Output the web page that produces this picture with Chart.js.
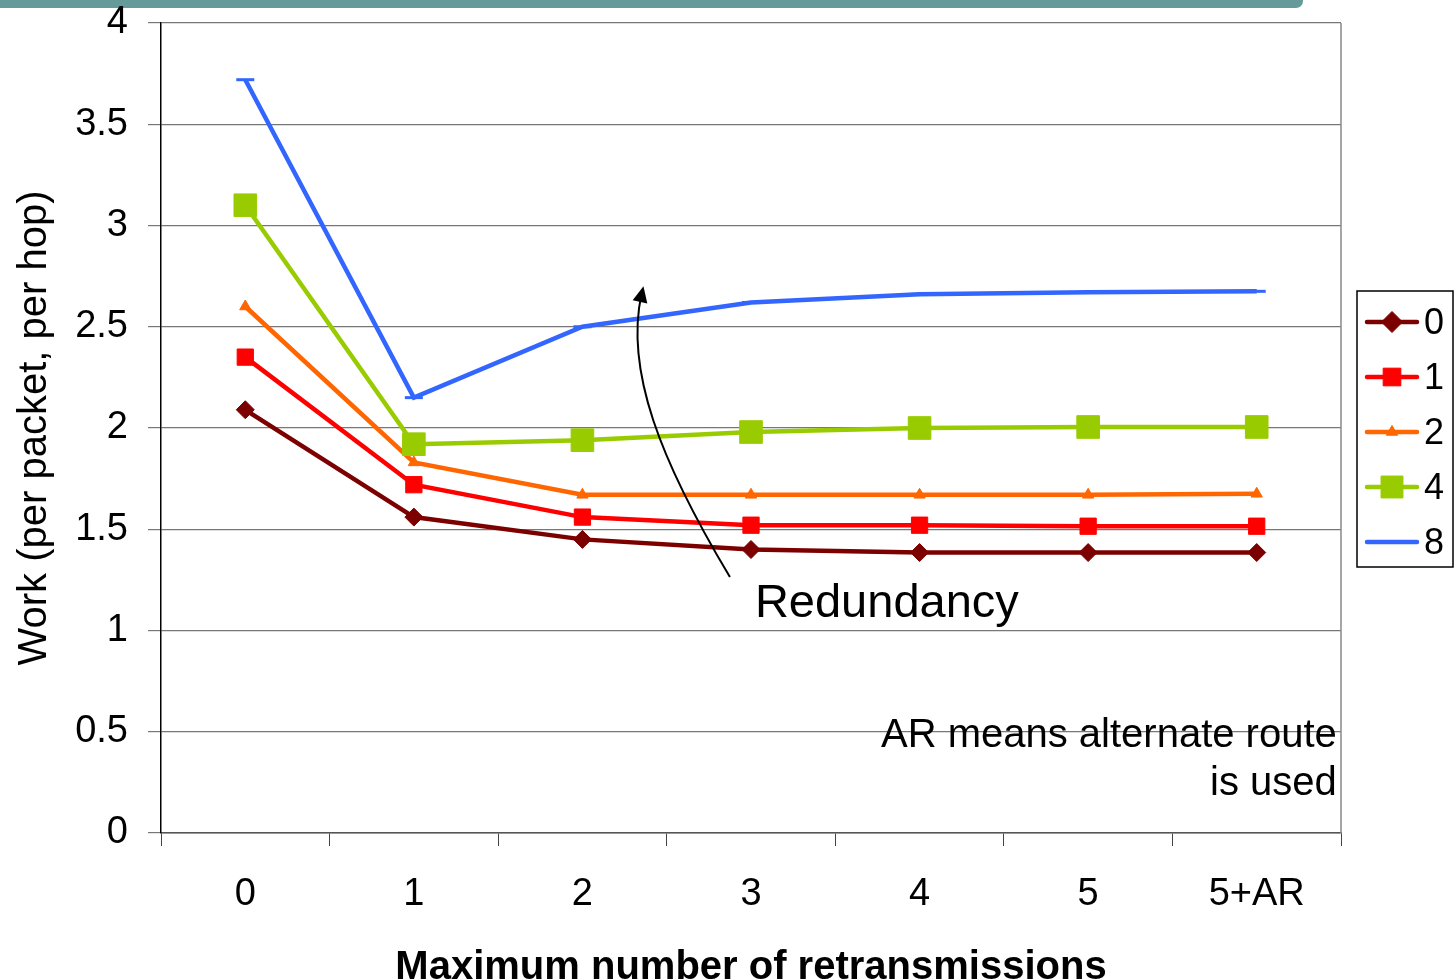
<!DOCTYPE html>
<html>
<head>
<meta charset="utf-8">
<script src="https://cdn.jsdelivr.net/npm/chart.js@4.4.1/dist/chart.umd.min.js"></script>
<style>
  html, body { margin: 0; padding: 0; background: #fff; }
  #wrap { width: 1455px; height: 980px; }
</style>
</head>
<body>
<div id="wrap"><canvas id="chart" width="1455" height="980"></canvas></div>
<script>
const FONT = "'Liberation Sans', Arial, sans-serif"

const categories = ['0', '1', '2', '3', '4', '5', '5+AR']
const work_r0 = [2.09, 1.56, 1.45, 1.40, 1.385, 1.385, 1.385]
const work_r1 = [2.35, 1.72, 1.56, 1.52, 1.52, 1.515, 1.515]
const work_r2 = [2.60, 1.83, 1.67, 1.67, 1.67, 1.67, 1.675]
const work_r4 = [3.10, 1.92, 1.94, 1.98, 2.00, 2.005, 2.005]
const work_r8 = [3.72, 2.15, 2.50, 2.62, 2.66, 2.67, 2.675]
const y_ticks = [0, 0.5, 1, 1.5, 2, 2.5, 3, 3.5, 4]

// annotation anchors in data units (category index, work)
const arrow_path = [[2.875, 1.264], [2.46, 1.842], [2.252, 2.286], [2.35, 2.66]]
const arrow_tip = [2.362, 2.70]
const redundancy_at = [3.023, 1.067]
const note_at = [6.475, 0.425, 0.188]

function series (label, data, color, style, radius, legendRadius, order) {
  return {
    label,
    data,
    borderColor: color,
    backgroundColor: color,
    borderWidth: 4.5,
    pointStyle: style,
    pointRadius: radius,
    pointHoverRadius: radius,
    pointBorderWidth: style === 'line' ? 3 : 1,
    pointBackgroundColor: color,
    pointBorderColor: color,
    legendRadius,
    tension: 0,
    order
  }
}

const datasets = [
  series('0', work_r0, '#7c0000', 'rectRot', 9, 10.5, 4),
  series('1', work_r1, '#ff0000', 'rect', 11.5, 12.5, 3),
  series('2', work_r2, '#ff6600', 'triangle', 6.5, 6.5, 2),
  series('4', work_r4, '#99cc00', 'rect', 16, 15.5, 1),
  series('8', work_r8, '#3366ff', 'line', 9, 0, 0)
]

const decorations = {
  id: 'decorations',
  beforeDraw (chart) {
    const ctx = chart.ctx
    ctx.save()
    ctx.fillStyle = '#fff'
    ctx.fillRect(0, 0, chart.width, chart.height)
    // slide header bar
    ctx.fillStyle = '#669999'
    ctx.beginPath()
    ctx.moveTo(0, 0)
    ctx.lineTo(1303, 0)
    ctx.lineTo(1303, 1)
    ctx.arcTo(1303, 8, 1296, 8, 7)
    ctx.lineTo(0, 8)
    ctx.closePath()
    ctx.fill()
    ctx.restore()
  },
  afterDraw (chart) {
    const ctx = chart.ctx
    const area = chart.chartArea
    const xs = chart.scales.x
    const ys = chart.scales.y
    const px = (v) => xs.getPixelForValue(v)
    const py = (v) => ys.getPixelForValue(v)

    ctx.save()
    // right border of plot area
    ctx.strokeStyle = '#888'
    ctx.lineWidth = 1.5
    ctx.beginPath()
    ctx.moveTo(area.right, area.top)
    ctx.lineTo(area.right, area.bottom)
    ctx.stroke()

    // redundancy arrow
    ctx.strokeStyle = '#000'
    ctx.fillStyle = '#000'
    ctx.lineWidth = 2
    const p = arrow_path.map(([a, b]) => [px(a), py(b)])
    ctx.beginPath()
    ctx.moveTo(p[0][0], p[0][1])
    ctx.bezierCurveTo(p[1][0], p[1][1], p[2][0], p[2][1], p[3][0], p[3][1])
    ctx.stroke()
    const tx = px(arrow_tip[0])
    const ty = py(arrow_tip[1])
    const ang = Math.atan2(ty - p[2][1], tx - p[2][0])
    const len = 16
    const half = 7.5
    const bx = tx - Math.cos(ang) * len
    const by = ty - Math.sin(ang) * len
    ctx.beginPath()
    ctx.moveTo(tx, ty)
    ctx.lineTo(bx + Math.sin(ang) * half, by - Math.cos(ang) * half)
    ctx.lineTo(bx - Math.sin(ang) * half, by + Math.cos(ang) * half)
    ctx.closePath()
    ctx.fill()

    ctx.fillStyle = '#000'
    ctx.textBaseline = 'alphabetic'
    ctx.font = '47px ' + FONT
    ctx.textAlign = 'left'
    ctx.fillText('Redundancy', px(redundancy_at[0]), py(redundancy_at[1]))

    ctx.font = '40px ' + FONT
    ctx.textAlign = 'right'
    ctx.fillText('AR means alternate route', px(note_at[0]), py(note_at[1]))
    ctx.fillText('is used', px(note_at[0]), py(note_at[2]))

    // legend
    const lx = area.right + 16
    const ly = 291
    const lw = 96
    const lh = 276
    ctx.strokeStyle = '#000'
    ctx.lineWidth = 1.5
    ctx.strokeRect(lx, ly, lw, lh)
    ctx.font = '36px ' + FONT
    ctx.textAlign = 'left'
    ctx.textBaseline = 'middle'
    chart.data.datasets.forEach((ds, i) => {
      const cy = ly + 31 + i * 55
      ctx.strokeStyle = ds.borderColor
      ctx.lineWidth = 4.5
      ctx.lineCap = 'round'
      ctx.beginPath()
      ctx.moveTo(lx + 10, cy)
      ctx.lineTo(lx + 60, cy)
      ctx.stroke()
      ctx.lineCap = 'butt'
      if (ds.pointStyle !== 'line') {
        ctx.fillStyle = ds.pointBackgroundColor
        ctx.strokeStyle = ds.pointBorderColor
        ctx.lineWidth = 1
        Chart.helpers.drawPoint(ctx, { pointStyle: ds.pointStyle, radius: ds.legendRadius, borderWidth: 1, rotation: 0 }, lx + 35, cy)
      }
      ctx.fillStyle = '#000'
      ctx.fillText(ds.label, lx + 67, cy + 2)
    })
    ctx.restore()
  }
}

new Chart(document.getElementById('chart'), {
  type: 'line',
  data: { labels: categories, datasets },
  plugins: [decorations],
  options: {
    responsive: false,
    animation: false,
    layout: { padding: { top: 23, right: 114, bottom: 0, left: 0 } },
    plugins: {
      legend: { display: false },
      tooltip: { enabled: false }
    },
    scales: {
      x: {
        type: 'category',
        offset: true,
        grid: {
          offset: true,
          drawOnChartArea: false,
          color: '#444',
          tickLength: 13,
          lineWidth: 1
        },
        border: { color: '#555', width: 1.5 },
        ticks: {
          color: '#000',
          padding: 26,
          maxRotation: 0,
          autoSkip: false,
          font: { family: FONT, size: 38 }
        },
        title: {
          display: true,
          text: 'Maximum number of retransmissions',
          color: '#000',
          padding: { top: 0, bottom: 0 },
          font: { family: FONT, size: 40, weight: 'bold', lineHeight: 0.6 }
        },
        afterFit (scale) {
          scale.height = 147
          scale.paddingLeft = 0
          scale.paddingRight = 0
        }
      },
      y: {
        min: 0,
        max: 4,
        afterBuildTicks (scale) { scale.ticks = y_ticks.map(v => ({ value: v })) },
        grid: {
          color: '#777',
          tickLength: 13,
          lineWidth: 1.2
        },
        border: { color: '#000', width: 1.5 },
        ticks: {
          color: '#000',
          padding: 20,
          font: { family: FONT, size: 38 },
          callback: (v) => String(v)
        },
        title: {
          display: true,
          text: 'Work (per packet, per hop)',
          color: '#000',
          padding: { top: 11, bottom: 0 },
          font: { family: FONT, size: 40, lineHeight: 1.2 }
        },
        afterFit (scale) {
          scale.width = 161
          scale.paddingTop = 0
          scale.paddingBottom = 0
        }
      }
    }
  }
})
</script>
</body>
</html>
